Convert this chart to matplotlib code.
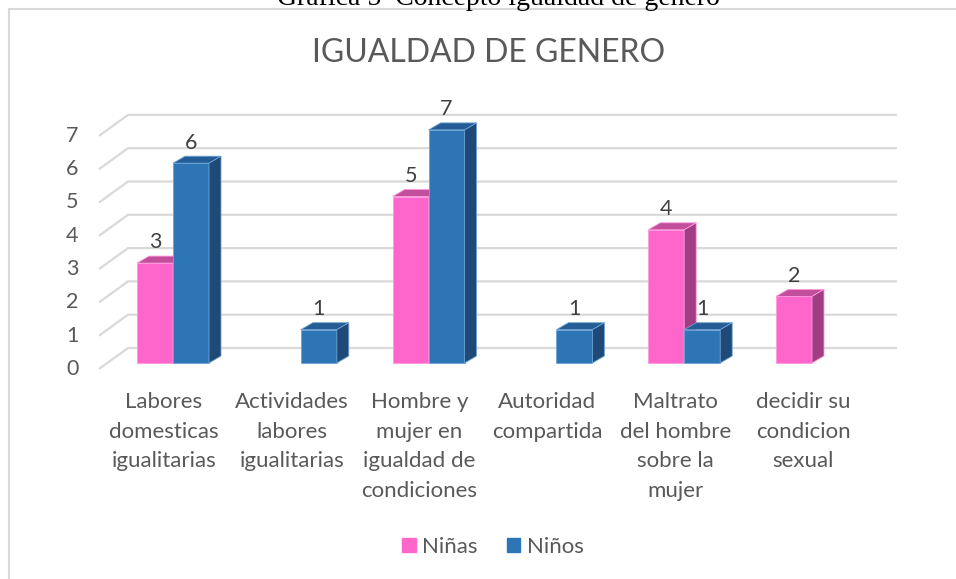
import matplotlib
matplotlib.use("Agg")
import matplotlib.pyplot as plt
from matplotlib.patches import Polygon, Rectangle

# datos
categorias = ["Labores\ndomesticas\nigualitarias",
              "Actividades\nlabores\nigualitarias",
              "Hombre y\nmujer en\nigualdad de\ncondiciones",
              "Autoridad\ncompartida",
              "Maltrato\ndel hombre\nsobre la\nmujer",
              "decidir su\ncondicion\nsexual"]
ninas = [3, 0, 5, 0, 4, 2]
ninos = [6, 1, 7, 1, 1, 0]
series = ["Niñas", "Niños"]
ticks_y = [0, 1, 2, 3, 4, 5, 6, 7]

# colores (frente, tapa, lado, borde)
col_ninas = ("#FF66CC", "#C24E9C", "#A13D82", "#FF99DD")
col_ninos = ("#2E75B6", "#245C95", "#1F4A77", "#6FA3D6")
gris = "#595959"
fuente = ["Lato", "DejaVu Sans"]

W, H = 956, 579
fig = plt.figure(figsize=(W / 100, H / 100), dpi=100)
ax = fig.add_axes([0, 0, 1, 1])

# escala: 127.8 px por categoria, 33.3 px por unidad
px_cat, px_val = 127.8, 33.3
x0_px, y0_px = 173, 363
ax.set_xlim((0 - x0_px) / px_cat, (W - x0_px) / px_cat)
ax.set_ylim((y0_px - H) / px_val, y0_px / px_val)
ax.axis("off")

# profundidad del suelo y de las barras (en unidades de datos)
piso_dx, piso_dy, piso_y = 29 / px_cat, 21 / px_val, -6 / px_val
barra_dx, barra_dy = 12 / px_cat, 7 / px_val
ancho = 36 / px_cat

# lineas de la cuadricula (pared del fondo + diagonal del suelo)
x_izq = (99 - x0_px) / px_cat
x_der = (897 - x0_px) / px_cat
for v in ticks_y:
    yf = v + piso_y
    ax.plot([x_izq, x_izq + piso_dx, x_der], [yf, yf + piso_dy, yf + piso_dy],
            color="#D9D9D9", lw=1.6, solid_capstyle="butt", zorder=1)
    ax.text(x_izq - 0.16, yf, str(v), ha="right", va="center",
            fontsize=15.5, color=gris, family=fuente)


def barra3d(xc, v, col, z):
    if v <= 0:
        return
    b = ax.bar(xc, v, width=ancho, color=col[0], edgecolor=col[3],
               linewidth=0.6, zorder=z)[0]
    x0, x1 = b.get_x(), b.get_x() + b.get_width()
    tapa = Polygon([(x0, v), (x1, v), (x1 + barra_dx, v + barra_dy),
                    (x0 + barra_dx, v + barra_dy)], closed=True,
                   facecolor=col[1], edgecolor=col[3], lw=0.6, zorder=z)
    lado = Polygon([(x1, 0), (x1 + barra_dx, barra_dy),
                    (x1 + barra_dx, v + barra_dy), (x1, v)], closed=True,
                   facecolor=col[2], edgecolor=col[3], lw=0.6, zorder=z)
    ax.add_patch(tapa)
    ax.add_patch(lado)
    ax.text(xc, v + 0.62, str(v), ha="center", va="center",
            fontsize=15.5, color="#404040", family=fuente, zorder=20)


for i in range(len(categorias)):
    barra3d(i - ancho / 2, ninas[i], col_ninas, 3 + 2 * i)
    barra3d(i + ancho / 2, ninos[i], col_ninos, 4 + 2 * i)
    ax.text(i - 9 / px_cat, (y0_px - 392) / px_val, categorias[i],
            ha="center", va="top", fontsize=16, color=gris, family=fuente,
            linespacing=1.6)

# titulo y leyenda
fig.text(489 / W, 1 - 53 / H, "IGUALDAD DE GENERO", ha="center", va="center",
         fontsize=23, color=gris, family=fuente)

leg = ax.legend(handles=[Rectangle((0, 0), 1, 1, color=col_ninas[0]),
                         Rectangle((0, 0), 1, 1, color=col_ninos[0])],
                labels=series, loc="center", bbox_to_anchor=(493 / W, 1 - 547 / H),
                ncol=2, frameon=False, handlelength=0.6, handleheight=0.6,
                handletextpad=0.3, columnspacing=1.3,
                prop={"family": fuente, "size": 16})
for t in leg.get_texts():
    t.set_color(gris)

# marco del grafico y leyenda del documento
fig.patches.append(Rectangle((8.5 / W, -0.1), 1.2, 1 - 9.5 / H + 0.1,
                             transform=fig.transFigure, fill=False,
                             edgecolor="#D9D9D9", lw=1.5))
fig.text(498 / W, 1 - 5 / H, "Grafica 5  Concepto igualdad de genero",
         ha="center", va="baseline", fontsize=20, color="black",
         family=["Liberation Serif", "DejaVu Serif"])

fig.savefig("out.png", dpi=100, facecolor="white")
